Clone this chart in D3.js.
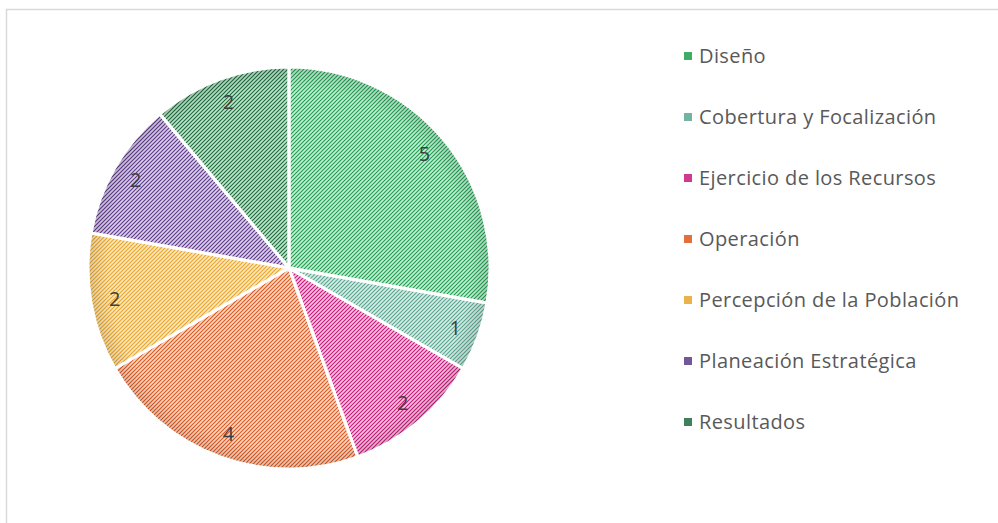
<!DOCTYPE html>
<meta charset="utf-8">
<script src="https://d3js.org/d3.v7.min.js"></script>
<style>
  body { margin: 0; background: #fff; }
</style>
<div class="pie-chart"></div>
<script>
    // data
    var categories = ["Diseño", "Cobertura y Focalización", "Ejercicio de los Recursos",
        "Operación", "Percepción de la Población", "Planeación Estratégica", "Resultados"];
    var values = [5, 1, 2, 4, 2, 2, 2];

    // stripe colour and background tint for each slice
    var darkColors = ["#1f9d4f", "#5aa690", "#c8177d", "#dd561c", "#e6a528", "#5b3a8a", "#1d6a3c"];
    var lightColors = ["#c4eed4", "#d6ebe4", "#f6c4de", "#fad8c6", "#fbe8c2", "#dccfea", "#bde6cd"];

    var width = 998;
    var height = 523;
    var radius = 201;
    var cx = 289, cy = 268;

    var svg = d3.select(".pie-chart").append("svg")
        .attr("width", width)
        .attr("height", height);

    // chart area border (goes off the right and bottom of the picture)
    svg.append("rect")
        .attr("x", 6.5)
        .attr("y", 9.5)
        .attr("width", width + 10)
        .attr("height", height + 10)
        .attr("fill", "none")
        .attr("stroke", "#d9d9d9")
        .attr("stroke-width", 1.5);

    var defs = svg.append("defs");

    categories.forEach(function(c, i) {
        var p = defs.append("pattern")
            .attr("id", "hatch" + i)
            .attr("patternUnits", "userSpaceOnUse")
            .attr("width", 4)
            .attr("height", 4);
        p.append("rect")
            .attr("width", 4)
            .attr("height", 4)
            .attr("fill", lightColors[i]);
        p.append("path")
            .attr("d", "M-1,1 l2,-2 M0,4 l4,-4 M3,5 l2,-2")
            .attr("stroke", darkColors[i])
            .attr("stroke-width", 1.1);
    });

    // soft darkening toward the rim
    var rim = defs.append("radialGradient")
        .attr("id", "rim")
        .attr("gradientUnits", "userSpaceOnUse")
        .attr("cx", 0).attr("cy", 0).attr("r", radius);
    rim.append("stop").attr("offset", "0.9").attr("stop-color", "#000").attr("stop-opacity", 0);
    rim.append("stop").attr("offset", "1").attr("stop-color", "#000").attr("stop-opacity", 0.12);

    var pie = d3.pie()
        .sort(null)
        .value(function(d) { return d; });

    var arc = d3.arc()
        .innerRadius(0)
        .outerRadius(radius);

    var labelArc = d3.arc()
        .innerRadius(radius * 0.88)
        .outerRadius(radius * 0.88);

    var g = svg.append("g")
        .attr("transform", "translate(" + cx + "," + cy + ")");

    var arcs = pie(values);

    g.selectAll(".slice")
        .data(arcs)
        .enter()
        .append("path")
        .attr("class", "slice")
        .attr("d", arc)
        .attr("fill", function(d, i) { return "url(#hatch" + i + ")"; });

    g.selectAll(".shade")
        .data(arcs)
        .enter()
        .append("path")
        .attr("class", "shade")
        .attr("d", arc)
        .attr("fill", "url(#rim)")
        .attr("stroke", "#fff")
        .attr("stroke-width", 3)
        .attr("stroke-linejoin", "round");

    g.selectAll(".value")
        .data(arcs)
        .enter()
        .append("text")
        .attr("class", "value")
        .attr("transform", function(d) { return "translate(" + labelArc.centroid(d) + ")"; })
        .attr("text-anchor", "middle")
        .attr("dy", "0.35em")
        .attr("font-family", "Open Sans, sans-serif")
        .attr("font-size", "20px")
        .attr("fill", "#404040")
        .text(function(d) { return d.data; });

    // legend
    var legendX = 684, legendY = 56, legendStep = 61;

    var legend = svg.selectAll(".legend")
        .data(categories)
        .enter()
        .append("g")
        .attr("class", "legend")
        .attr("transform", function(d, i) {
            return "translate(" + legendX + "," + (legendY + i * legendStep) + ")";
        });

    legend.append("rect")
        .attr("x", 0)
        .attr("y", -4)
        .attr("width", 8)
        .attr("height", 8)
        .attr("fill", function(d, i) { return darkColors[i]; })
        .attr("opacity", 0.85);

    legend.append("text")
        .attr("x", 15)
        .attr("dy", "0.35em")
        .attr("font-family", "Open Sans, sans-serif")
        .attr("font-size", "20px")
        .attr("letter-spacing", "0.4px")
        .attr("fill", "#595959")
        .text(function(d) { return d; });
</script>
